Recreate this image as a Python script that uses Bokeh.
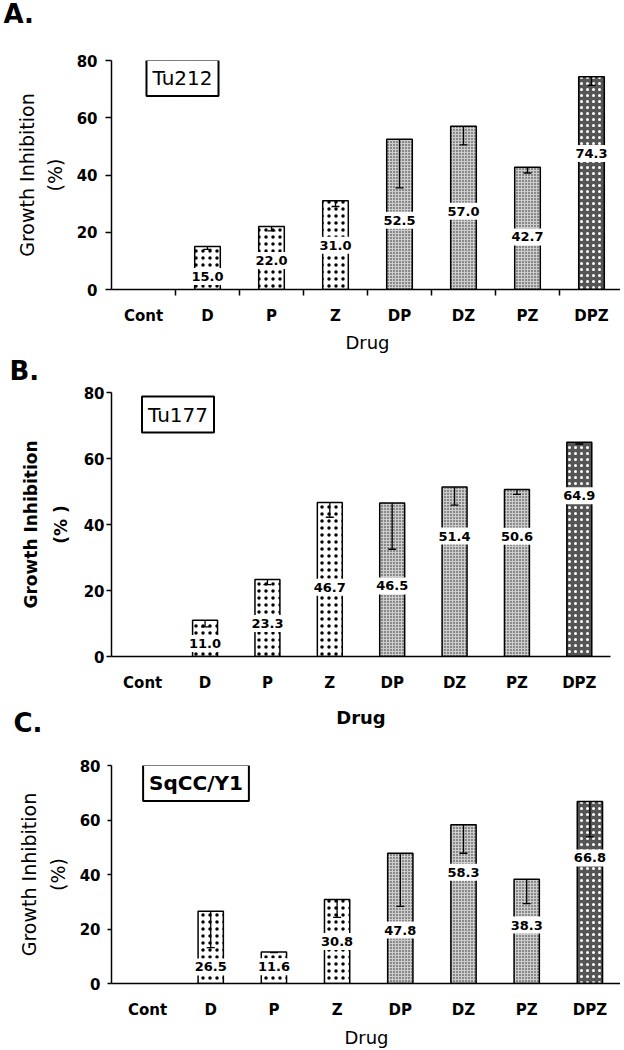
from bokeh.plotting import figure
from bokeh.layouts import column
from bokeh.models import (Range1d, FixedTicker, Label, Whisker, TeeHead,
                          ColumnDataSource)
from bokeh.embed import file_html
from bokeh.resources import INLINE

# ---------------- data ----------------
drugs = ["Cont", "D", "P", "Z", "DP", "DZ", "PZ", "DPZ"]
drug_group = ["none", "single", "single", "single", "double", "double", "double", "triple"]

tu212_values = [0, 15.0, 22.0, 31.0, 52.5, 57.0, 42.7, 74.3]
tu212_errors = [0, 1.0, 1.5, 2.0, 17.0, 6.5, 2.0, 3.0]

tu177_values = [0, 11.0, 23.3, 46.7, 46.5, 51.4, 50.6, 64.9]
tu177_errors = [0, 2.0, 1.5, 4.5, 14.0, 5.5, 1.5, 0.5]

sqcc_values = [0, 26.5, 11.6, 30.8, 47.8, 58.3, 38.3, 66.8]
sqcc_errors = [0, 13.3, 0.3, 6.5, 19.5, 10.5, 9.0, 13.0]

y_ticks = [0, 20, 40, 60, 80]

# where the value label sits inside each bar (fraction of bar height) - style
label_frac_a = [0, 0.30, 0.46, 0.50, 0.46, 0.48, 0.43, 0.64]
label_frac_b = [0, 0.36, 0.43, 0.45, 0.46, 0.71, 0.72, 0.75]
label_frac_c = [0, 0.23, 0.53, 0.50, 0.41, 0.70, 0.56, 0.69]

FONT = "DejaVu Sans"

group_style = {
    "single": dict(fill_color="white", hatch_pattern="dot", hatch_color="black",
                   hatch_scale=7, hatch_weight=0.6),
    "double": dict(fill_color="#cdcdcd", hatch_pattern="dot", hatch_color="#222222",
                   hatch_scale=3, hatch_weight=0.9),
    "triple": dict(fill_color="#555555", hatch_pattern="dot", hatch_color="white",
                   hatch_scale=6, hatch_weight=1.3),
}


def make_panel(letter, letter_offset, letter_standoff, cell, cell_bold, cell_pos,
               values, errors, fracs,
               frame_left, frame_w, frame_top, frame_h, bottom, x_start,
               tick_out, tick_standoff, with_minor, x_standoff, ylabel, ylabel_bold,
               ylabel_size, ylabel_lh, ylabel_standoff, xlabel_bold, xlabel_standoff,
               margin):
    n = len(drugs)
    p = figure(frame_width=frame_w, frame_height=frame_h,
               min_border_left=frame_left, min_border_top=frame_top,
               min_border_bottom=bottom, min_border_right=624 - frame_left - frame_w,
               x_range=Range1d(x_start, n), y_range=Range1d(0, 80),
               output_backend="svg", toolbar_location=None, margin=margin)
    p.background_fill_alpha = 0
    p.border_fill_alpha = 0
    p.outline_line_color = None
    p.xgrid.grid_line_color = None
    p.ygrid.grid_line_color = None

    # panel letter, shifted to the left edge
    p.title.text = letter
    p.title.align = "left"
    p.title.offset = letter_offset
    p.title.standoff = letter_standoff
    p.title.text_font = FONT
    p.title.text_font_size = "26px"
    p.title.text_font_style = "bold"
    p.title.text_color = "black"

    centers = [i + 0.5 for i in range(n)]
    for grp, st in group_style.items():
        xs = [centers[i] for i in range(n) if drug_group[i] == grp and values[i] > 0]
        tops = [values[i] for i in range(n) if drug_group[i] == grp and values[i] > 0]
        p.vbar(x=xs, top=tops, bottom=0, width=0.4, line_color="black",
               line_width=1.5, **st)

    src = ColumnDataSource(dict(
        x=[centers[i] for i in range(n) if values[i] > 0],
        upper=[values[i] for i in range(n) if values[i] > 0],
        lower=[values[i] - errors[i] for i in range(n) if values[i] > 0],
    ))
    w = Whisker(source=src, base="x", upper="upper", lower="lower",
                dimension="height", upper_head=None,
                lower_head=TeeHead(size=8, line_color="black", line_width=1.3),
                line_color="black", line_width=1.3, level="annotation")
    p.add_layout(w)

    for i in range(n):
        if values[i] > 0:
            p.add_layout(Label(x=centers[i], y=values[i] * fracs[i],
                               text=f"{values[i]:.1f}", text_align="center",
                               text_baseline="middle", text_font=FONT,
                               text_font_style="bold", text_font_size="13px",
                               text_color="black", background_fill_color="white",
                               padding=4))

    # cell-line name box
    p.add_layout(Label(x=cell_pos[0], y=cell_pos[1], x_units="screen", y_units="screen",
                       text=cell, text_align="center", text_baseline="middle",
                       text_font=FONT, text_font_size="20px",
                       text_font_style="bold" if cell_bold else "normal",
                       text_color="black",
                       background_fill_color="white", border_line_color="black",
                       border_line_width=2, padding=6))

    xa = p.xaxis[0]
    xa.ticker = FixedTicker(ticks=centers,
                            minor_ticks=[float(i) for i in range(1, n)] if with_minor else [])
    xa.major_label_overrides = {c: d for c, d in zip(centers, drugs)}
    xa.major_tick_out = 0
    xa.major_tick_in = 0
    xa.minor_tick_in = 0
    xa.minor_tick_out = 6 if with_minor else 0
    xa.minor_tick_line_color = "black" if with_minor else None
    xa.minor_tick_line_width = 1.5
    xa.major_label_standoff = x_standoff
    xa.major_label_text_font = FONT
    xa.major_label_text_font_style = "bold"
    xa.major_label_text_font_size = "15px"
    xa.major_label_text_color = "black"
    xa.axis_line_color = "black"
    xa.axis_line_width = 1.5
    xa.axis_label = "Drug"
    xa.axis_label_text_font = FONT
    xa.axis_label_text_font_size = "18px"
    xa.axis_label_text_font_style = "bold" if xlabel_bold else "normal"
    xa.axis_label_text_color = "black"
    xa.axis_label_standoff = xlabel_standoff

    ya = p.yaxis[0]
    ya.ticker = FixedTicker(ticks=y_ticks, minor_ticks=[])
    ya.major_tick_out = tick_out
    ya.major_tick_in = 0
    ya.major_tick_line_width = 1.5
    ya.major_label_standoff = tick_standoff
    ya.major_label_text_font = FONT
    ya.major_label_text_font_style = "bold"
    ya.major_label_text_font_size = "15px"
    ya.major_label_text_color = "black"
    ya.axis_line_color = "black"
    ya.axis_line_width = 1.5
    ya.axis_label = ylabel
    ya.axis_label_text_font = FONT
    ya.axis_label_text_font_size = ylabel_size
    ya.axis_label_text_font_style = "bold" if ylabel_bold else "normal"
    ya.axis_label_text_line_height = ylabel_lh
    ya.axis_label_text_color = "black"
    ya.axis_label_standoff = ylabel_standoff
    return p


pA = make_panel("A.", -108, 64, "Tu212", False, (71, 211.5),
                tu212_values, tu212_errors, label_frac_a,
                frame_left=108, frame_w=516, frame_top=100, frame_h=229, bottom=64,
                x_start=0, tick_out=6, tick_standoff=8, with_minor=True, x_standoff=11,
                ylabel="Growth Inhibition\n(%)", ylabel_bold=False, ylabel_size="19px",
                ylabel_lh=1.25, ylabel_standoff=8, xlabel_bold=False, xlabel_standoff=4,
                margin=(-40, 0, 0, -4))

pB = make_panel("B.", -102, 14, "Tu177", False, (66.5, 242),
                tu177_values, tu177_errors, label_frac_b,
                frame_left=115, frame_w=503, frame_top=50, frame_h=264, bottom=75,
                x_start=0, tick_out=5, tick_standoff=2, with_minor=False, x_standoff=17,
                ylabel="Growth Inhibition\n(% )", ylabel_bold=True, ylabel_size="17px",
                ylabel_lh=1.5, ylabel_standoff=10, xlabel_bold=True, xlabel_standoff=12,
                margin=(-13, 0, 0, -4))

pC = make_panel("C.", -98, 56, "SqCC/Y1", True, (84.5, 200.5),
                sqcc_values, sqcc_errors, label_frac_c,
                frame_left=110, frame_w=514, frame_top=92, frame_h=218, bottom=64,
                x_start=-0.07, tick_out=4, tick_standoff=7, with_minor=False, x_standoff=17,
                ylabel="Growth Inhibition\n(%)", ylabel_bold=False, ylabel_size="19px",
                ylabel_lh=1.3, ylabel_standoff=8, xlabel_bold=False, xlabel_standoff=5,
                margin=(-58, 0, 0, -4))

layout = column(pA, pB, pC, spacing=0)
open("out.html", "w").write(file_html(layout, INLINE))
